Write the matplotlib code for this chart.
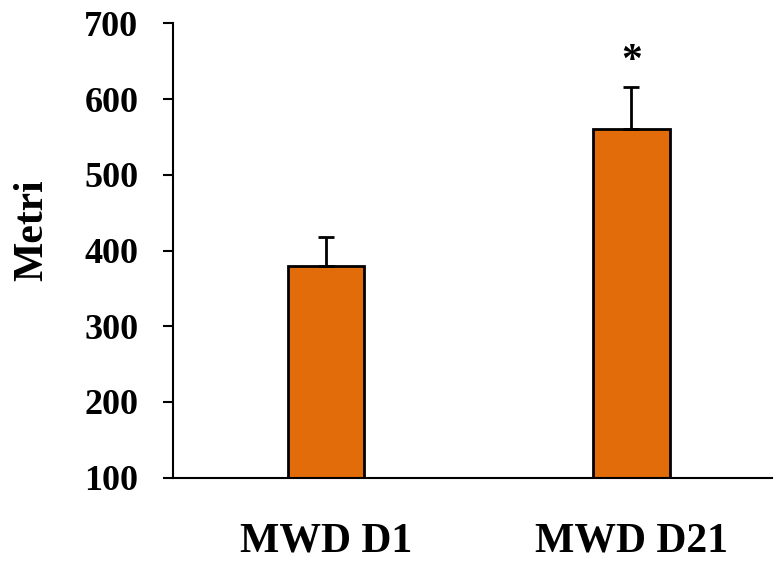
import matplotlib
matplotlib.use("Agg")
import matplotlib.pyplot as plt

groups = ["MWD D1", "MWD D21"]
means = [380, 560]
errors = [38, 56]
y_ticks = [100, 200, 300, 400, 500, 600, 700]

plt.rcParams['font.family'] = ['Liberation Serif', 'DejaVu Serif']
plt.rcParams['font.weight'] = 'bold'

fig = plt.figure(figsize=(7.74, 5.62), dpi=100)
ax = fig.add_axes([0.2235, 0.150, 0.774, 0.8085])

pos = list(range(len(groups)))
ax.bar(pos, means, width=0.25, bottom=0, color="#E36C0A", edgecolor="black",
       linewidth=2, zorder=2)
ax.errorbar(pos, means, yerr=[[0, 0], errors], fmt="none", ecolor="black",
            elinewidth=2, capsize=6, capthick=2, zorder=3)
ax.text(pos[1], means[1] + errors[1] + 33, "*", ha="center", va="center",
        fontsize=30, fontweight="bold")

ax.set_ylim(100, 700)
ax.set_xlim(-0.5, 1.46)
ax.set_yticks(y_ticks)
ax.set_xticks(pos)
ax.set_xticklabels(groups, fontsize=30, fontweight="bold")
ax.tick_params(axis="y", labelsize=26, length=7, width=1.5, pad=18)
ax.tick_params(axis="x", length=0, pad=32)
for lbl in ax.get_yticklabels():
    lbl.set_fontweight("bold")

# y label placed by hand, it sits a bit above the axis centre in the original
fig.text(32 / 774, 1 - 230 / 562, "Metri", rotation=90, ha="center",
         va="center", fontsize=30, fontweight="bold")

ax.spines["top"].set_visible(False)
ax.spines["right"].set_visible(False)
ax.spines["left"].set_linewidth(1.5)
ax.spines["bottom"].set_linewidth(1.5)

plt.savefig("out.png", dpi=100)
